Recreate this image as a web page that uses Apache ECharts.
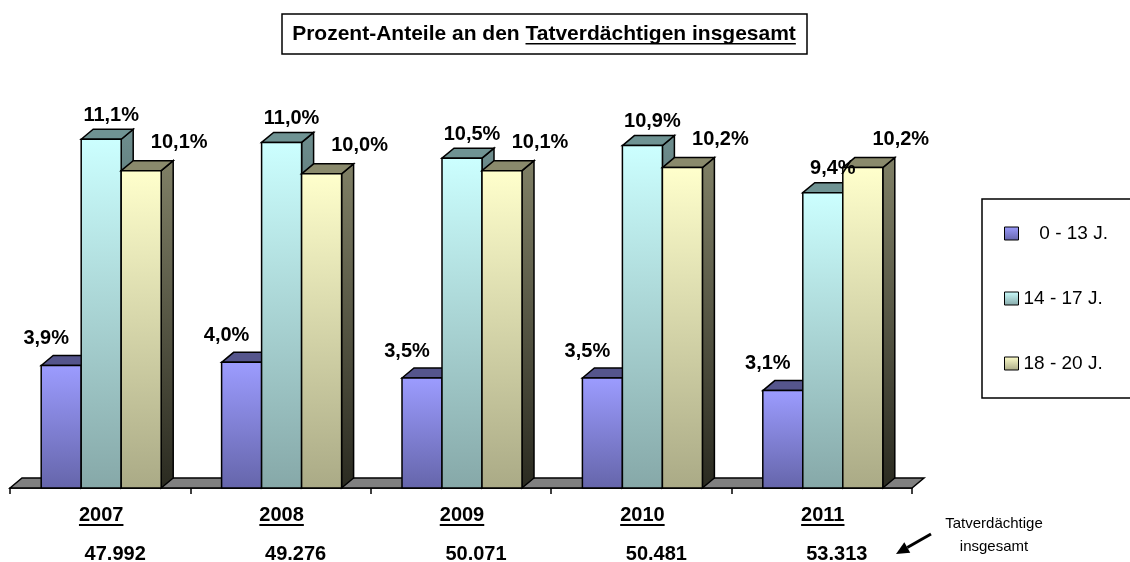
<!DOCTYPE html>
<html><head><meta charset="utf-8">
<script src="https://cdn.jsdelivr.net/npm/echarts@6/dist/echarts.min.js"></script>
<style>html,body{margin:0;padding:0;background:#fff}#c{width:1130px;height:562px}</style>
</head><body><div id="c"></div>
<script>
// ---------- data ----------
const years = ['2007', '2008', '2009', '2010', '2011'];
const totals = ['47.992', '49.276', '50.071', '50.481', '53.313'];
const seriesNames = ['0 - 13 J.', '14 - 17 J.', '18 - 20 J.'];
const age0to13 = [3.9, 4.0, 3.5, 3.5, 3.1];
const age14to17 = [11.1, 11.0, 10.5, 10.9, 9.4];
const age18to20 = [10.1, 10.0, 10.1, 10.2, 10.2];
const titlePlain = 'Prozent-Anteile an den ';
const titleUnderlined = 'Tatverdächtigen insgesamt';
const noteLines = ['Tatverdächtige', 'insgesamt'];

// ---------- styles ----------
const FONT = '"Liberation Sans", Arial, Helvetica, sans-serif';
const palette = [
  { front: ['#9C9CFF', '#6565AA'], top: '#55558C', side: ['#4C4C80', '#262640'] },
  { front: ['#CCFFFF', '#86A8A8'], top: '#6F9393', side: ['#6E8E8E', '#2E3A3A'] },
  { front: ['#FFFFCC', '#AAAA86'], top: '#8A8A6C', side: ['#808066', '#2A2A20'] }
];
const labelOffset = [[-15, -27], [10, -24], [38, -28]];
const DX = 12, DY = 10, BW = 40;

function vgrad(c) {
  return new echarts.graphic.LinearGradient(0, 0, 0, 1, [
    { offset: 0, color: c[0] }, { offset: 1, color: c[1] }]);
}
function fmtPct(v) { return v.toFixed(1).replace('.', ',') + '%'; }

const mctx = document.createElement('canvas').getContext('2d');
function measure(text, font) { mctx.font = font; return mctx.measureText(text).width; }

const LABEL_FONT = 'bold 20px ' + FONT;
const stroke = { stroke: '#000', lineWidth: 1.5, lineJoin: 'miter' };
const CENTER = { align: 'center', verticalAlign: 'middle', textAlign: 'center', textVerticalAlign: 'middle' };

function bar3D(s) {
  return function (params, api) {
    const ci = api.value(0), v = api.value(1);
    const t = api.coord([ci, v]);
    const b = api.coord([ci, 0]);
    const x0 = b[0] - 1.5 * BW + 1 + s * BW;
    const ty = t[1], by = b[1];
    const p = palette[s];
    return {
      type: 'group',
      children: [
        { type: 'polygon', shape: { points: [[x0 + BW, ty], [x0 + BW + DX, ty - DY], [x0 + BW + DX, by - DY], [x0 + BW, by]] },
          style: Object.assign({ fill: vgrad(p.side) }, stroke) },
        { type: 'polygon', shape: { points: [[x0, ty], [x0 + DX, ty - DY], [x0 + BW + DX, ty - DY], [x0 + BW, ty]] },
          style: Object.assign({ fill: p.top }, stroke) },
        { type: 'rect', shape: { x: x0, y: ty, width: BW, height: by - ty },
          style: Object.assign({ fill: vgrad(p.front) }, stroke) },
        { type: 'text', z2: 100, x: x0 + BW / 2 + labelOffset[s][0], y: ty + labelOffset[s][1],
          style: Object.assign({ text: fmtPct(v), font: LABEL_FONT, fill: '#000' }, CENTER) }
      ]
    };
  };
}

const seriesValues = [age0to13, age14to17, age18to20];

const series = [];
// floor
series.push({
  type: 'custom', name: 'floor', silent: true, z: 1,
  data: [[0, 0]],
  renderItem: function (params, api) {
    const cs = params.coordSys;
    const by = cs.y + cs.height;
    return { type: 'polygon',
      shape: { points: [[cs.x, by], [cs.x + DX, by - DY], [cs.x + cs.width + DX, by - DY], [cs.x + cs.width, by]] },
      style: { fill: '#808080', stroke: '#000', lineWidth: 1.5 } };
  }
});
seriesValues.forEach(function (vals, s) {
  series.push({
    type: 'custom', name: seriesNames[s], z: 2,
    itemStyle: { color: vgrad(palette[s].front) },
    data: vals.map(function (v, i) { return [i, v]; }),
    renderItem: bar3D(s)
  });
});
// category texts: year (underlined) + totals
const YEAR_FONT = 'bold 20px ' + FONT;
series.push({
  type: 'custom', name: 'cats', silent: true, z: 3,
  data: years.map(function (y, i) { return [i, 0]; }),
  renderItem: function (params, api) {
    const i = api.value(0);
    const p = api.coord([i, 0]);
    const cx = p[0] + 1;
    const w = measure(years[i], YEAR_FONT);
    return { type: 'group', children: [
      { type: 'text', x: cx, y: p[1] + 27,
        style: Object.assign({ text: years[i], font: YEAR_FONT, fill: '#000' }, CENTER) },
      { type: 'rect', shape: { x: cx - w / 2, y: p[1] + 36, width: w, height: 2 }, style: { fill: '#000' } },
      { type: 'text', x: cx + 14, y: p[1] + 66,
        style: Object.assign({ text: totals[i], font: YEAR_FONT, fill: '#000' }, CENTER) }
    ] };
  }
});

// title geometry
const TITLE_FONT = 'bold 21px ' + FONT;
const w1 = measure(titlePlain, TITLE_FONT), w2 = measure(titleUnderlined, TITLE_FONT);
const titleCx = 544, titleCy = 34;
const tx0 = titleCx - (w1 + w2) / 2;

// arrow geometry
const aTail = [931, 534], aTip = [896, 554];
const ux = (aTip[0] - aTail[0]), uy = (aTip[1] - aTail[1]);
const ul = Math.sqrt(ux * ux + uy * uy);
const nx = ux / ul, ny = uy / ul;
const hb = [aTip[0] - 13 * nx, aTip[1] - 13 * ny];

const LEFT = { align: 'left', verticalAlign: 'middle', textAlign: 'left', textVerticalAlign: 'middle' };

const chart = echarts.init(document.getElementById('c'), null, { renderer: 'canvas' });
chart.setOption({
  backgroundColor: '#fff',
  animation: false,
  grid: { left: 10, right: 218, top: 111, bottom: 74 },
  xAxis: {
    type: 'category', data: years, boundaryGap: true,
    axisLine: { show: true, lineStyle: { color: '#000', width: 1.5 } },
    axisTick: { show: true, length: 6, lineStyle: { color: '#000', width: 1.5 } },
    axisLabel: { show: false }, splitLine: { show: false }
  },
  yAxis: { type: 'value', min: 0, max: 12, show: false },
  legend: {
    orient: 'vertical', left: 982, top: 199,
    data: seriesNames.map(function (n, s) { return { name: n, itemStyle: { color: vgrad(palette[s].front) } }; }),
    icon: 'rect', itemWidth: 14, itemHeight: 13, itemGap: 46,
    padding: [25, 200, 25, 22],
    borderColor: '#000', borderWidth: 1.5, backgroundColor: '#fff',
    itemStyle: { borderColor: '#000', borderWidth: 1 },
    selectedMode: false,
    formatter: function (n) { return n === seriesNames[0] ? '   ' + n : n; },
    textStyle: { fontFamily: FONT, fontSize: 19, color: '#000' }
  },
  graphic: [
    { type: 'rect', shape: { x: 282, y: 14, width: 525, height: 40 }, style: { fill: '#fff', stroke: '#000', lineWidth: 1.5 } },
    { type: 'text', x: tx0, y: titleCy, style: Object.assign({ text: titlePlain, font: TITLE_FONT, fill: '#000' }, LEFT) },
    { type: 'text', x: tx0 + w1, y: titleCy, style: Object.assign({ text: titleUnderlined, font: TITLE_FONT, fill: '#000' }, LEFT) },
    { type: 'rect', shape: { x: tx0 + w1, y: titleCy + 9, width: w2, height: 1.5 }, style: { fill: '#000' } },
    { type: 'text', x: 994, y: 524, style: Object.assign({ text: noteLines[0], font: '15px ' + FONT, fill: '#000' }, CENTER) },
    { type: 'text', x: 994, y: 547, style: Object.assign({ text: noteLines[1], font: '15px ' + FONT, fill: '#000' }, CENTER) },
    { type: 'line', shape: { x1: aTail[0], y1: aTail[1], x2: hb[0], y2: hb[1] }, style: { stroke: '#000', lineWidth: 3 } },
    { type: 'polygon', shape: { points: [aTip, [hb[0] - 6 * ny, hb[1] + 6 * nx], [hb[0] + 6 * ny, hb[1] - 6 * nx]] }, style: { fill: '#000' } }
  ],
  series: series
});
</script></body></html>
